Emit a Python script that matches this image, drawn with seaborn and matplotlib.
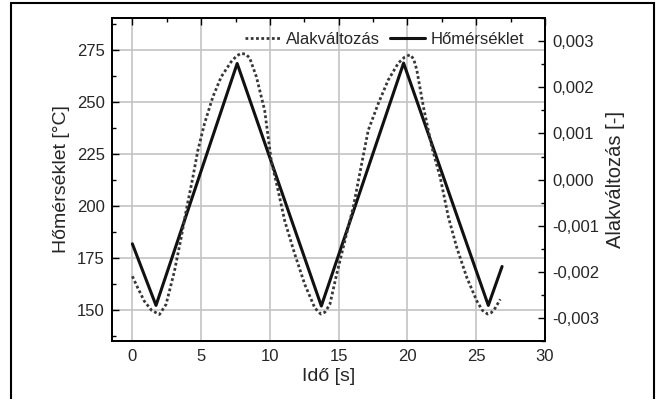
import numpy as np
import pandas as pd
import matplotlib
matplotlib.use("Agg")
import matplotlib.pyplot as plt
from matplotlib.ticker import MultipleLocator, FuncFormatter
from matplotlib.patches import Rectangle
import seaborn as sns

# -------------------------------
# Data
# -------------------------------
# Hőmérséklet (left axis, solid)
temp_time = [0.0, 1.72, 7.62, 13.74, 19.72, 25.88, 26.88]
temp_vals = [181.6, 152.0, 268.3, 151.7, 268.5, 152.0, 170.7]

# Alakváltozás (right axis, dotted)
strain_time = [0.0, 0.39, 0.87, 1.4, 1.97, 2.45, 3.06, 3.55, 3.91, 4.40,
               4.76, 5.25, 5.86, 6.46, 7.19, 7.6, 7.92, 8.25, 8.53, 9.02,
               9.62, 10.1, 10.6, 11.08, 11.81, 12.54, 13.27, 13.7, 14.0, 14.36,
               14.85, 15.45, 16.06, 16.67, 17.15, 17.88, 18.6, 19.34, 19.8, 20.19,
               20.45, 20.68, 21.16, 21.77, 22.38, 22.98, 23.59, 24.32, 25.05, 25.45,
               25.83, 26.1, 26.38, 26.75]
strain_vals = [-0.00210, -0.00235, -0.00264, -0.00284, -0.00293, -0.00271, -0.00199,
               -0.00126, -0.00068, 0.00005, 0.00063, 0.00122, 0.00180, 0.00223,
               0.00256, 0.00269, 0.00274, 0.00272, 0.00264, 0.00223, 0.00150,
               0.00041, -0.00024, -0.00090, -0.00162, -0.00228, -0.00279, -0.00292,
               -0.00288, -0.00271, -0.00206, -0.00133, -0.00060, 0.00034, 0.00107,
               0.00165, 0.00216, 0.00253, 0.00266, 0.00271, 0.00262, 0.00238,
               0.00158, 0.00071, 0.00005, -0.00082, -0.00148, -0.00213, -0.00264,
               -0.00284, -0.00292, -0.00289, -0.00279, -0.00260]

x_ticks = [0, 5, 10, 15, 20, 25, 30]
left_ticks = [150, 175, 200, 225, 250, 275]
right_ticks = [-0.003, -0.002, -0.001, 0.0, 0.001, 0.002, 0.003]

temp_df = pd.DataFrame({"t": temp_time, "T": temp_vals})
strain_df = pd.DataFrame({"t": strain_time, "e": strain_vals})

sns.set_style("white")
plt.rcParams["font.family"] = ["Liberation Sans", "DejaVu Sans"]

fig = plt.figure(figsize=(6.63, 3.99), dpi=100)
ax = fig.add_axes([0.1685, 0.146, 0.6535, 0.808])
ax2 = ax.twinx()

sns.lineplot(data=temp_df, x="t", y="T", ax=ax, color="#111111",
             linewidth=2.2, legend=False)
sns.lineplot(data=strain_df, x="t", y="e", ax=ax2, color="#383838",
             linewidth=2.0, legend=False)
ax2.lines[0].set_linestyle((0, (1, 0.9)))

ax.set_xlim(-1.5, 30)
ax.set_ylim(135, 290)
ax2.set_ylim(-0.0035, 0.0035)

ax.set_xticks(x_ticks)
ax.set_yticks(left_ticks)
ax2.set_yticks(right_ticks)
ax.xaxis.set_minor_locator(MultipleLocator(2.5))
ax.yaxis.set_minor_locator(MultipleLocator(12.5))
ax2.yaxis.set_minor_locator(MultipleLocator(0.0005))
ax2.yaxis.set_major_formatter(FuncFormatter(lambda v, p: f"{v:.3f}".replace(".", ",").replace("-0,000", "0,000")))

ax.grid(True, which="major", color="#c4c4c4", linewidth=1.2)
ax.set_axisbelow(True)

ax.tick_params(axis="x", which="both", direction="in", top=True, labelsize=12, pad=6)
ax.tick_params(axis="y", which="both", direction="in", right=False, labelsize=12, pad=5)
ax2.tick_params(axis="y", which="both", direction="in", labelsize=12, pad=5)
for a in (ax, ax2):
    a.tick_params(which="major", length=5, width=1.0, color="black")
    a.tick_params(which="minor", length=3, width=1.0, color="black")
    for s in a.spines.values():
        s.set_color("black")
        s.set_linewidth(1.3)

ax.set_xlabel("Idő [s]", fontsize=14, labelpad=3)
ax.set_ylabel("Hőmérséklet [°C]", fontsize=14, labelpad=5)
ax2.set_ylabel("Alakváltozás [-]", fontsize=14.5, labelpad=5)

handles = [ax2.lines[0], ax.lines[0]]
labels = ["Alakváltozás", "Hőmérséklet"]
ax.legend(handles, labels, ncol=2, loc="upper right", frameon=False,
          bbox_to_anchor=(0.952, 0.957), borderaxespad=0, borderpad=0,
          fontsize=12, handlelength=2.1, handletextpad=0.35, columnspacing=0.6)

fig.patches.append(Rectangle((0.017, -0.01), 0.97, 1.002, transform=fig.transFigure,
                             fill=False, edgecolor="black", linewidth=1.5))

fig.savefig("out.png", dpi=100)
